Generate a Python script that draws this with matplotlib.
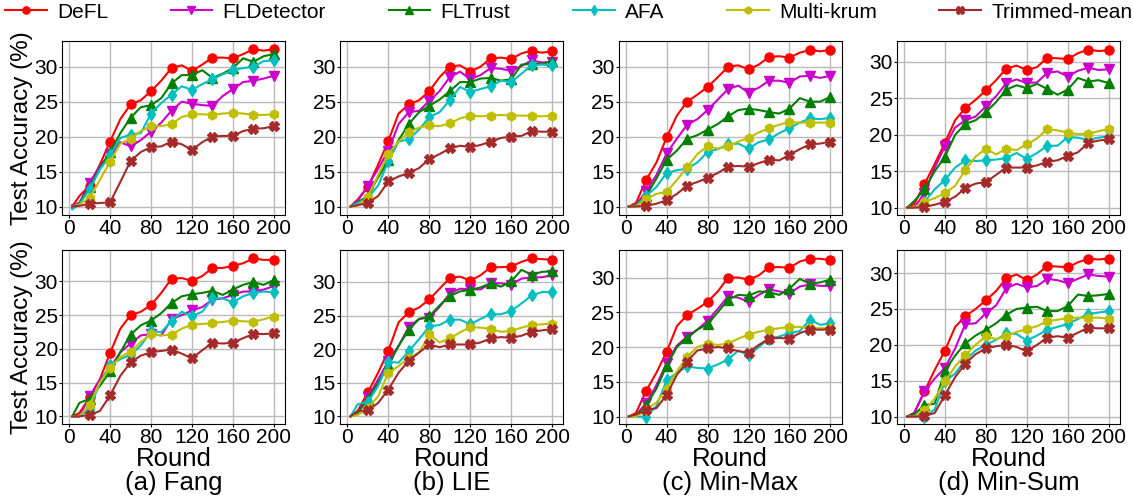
import matplotlib
matplotlib.use("Agg")
import matplotlib.pyplot as plt

plt.rcParams['font.family'] = ['Liberation Sans', 'DejaVu Sans']

# rounds at which accuracy was read (markers sit on every 20th round)
rounds = [3] + list(range(10, 201, 10))

methods = ['DeFL', 'FLDetector', 'FLTrust', 'AFA', 'Multi-krum', 'Trimmed-mean']
colors = ['#ff0000', '#cc00cc', '#008000', '#00bfbf', '#bfbf00', '#a52a2a']
markers = ['o', 'v', '^', 'd', 'h', 'X']

# top row
top_fang = {
    'DeFL':         [10, 11.5, 13.0, 16.0, 19.3, 22.5, 24.6, 25.2, 26.5, 28.0, 29.8, 30.2, 29.4, 30.3, 31.3, 31.3, 31.2, 31.8, 32.5, 32.3, 32.5],
    'FLDetector':   [10.2, 10.5, 13.4, 15.8, 17.5, 19.2, 18.6, 19.5, 20.7, 22.0, 23.7, 25.0, 24.7, 24.5, 24.4, 25.8, 26.8, 27.8, 28.0, 28.3, 28.7],
    'FLTrust':      [9.8, 10.5, 12.8, 15.5, 17.8, 20.5, 22.7, 24.2, 24.5, 25.5, 27.6, 28.8, 28.8, 29.5, 28.4, 29.0, 29.8, 31.2, 30.7, 31.5, 31.8],
    'AFA':          [9.6, 10.3, 12.5, 15.3, 17.3, 19.8, 20.3, 20.5, 23.3, 24.8, 26.0, 27.2, 26.7, 27.5, 28.2, 28.9, 29.5, 29.8, 30.0, 30.8, 30.9],
    'Multi-krum':   [10, 10.3, 11.2, 13.8, 16.4, 19.0, 19.7, 20.8, 21.5, 21.5, 21.8, 22.8, 23.2, 23.2, 23.1, 23.3, 23.4, 23.3, 23.1, 23.1, 23.2],
    'Trimmed-mean': [10, 10.1, 10.4, 10.5, 10.6, 13.5, 16.5, 17.8, 18.5, 18.6, 19.3, 18.9, 18.1, 19.2, 20.0, 20.1, 20.1, 20.8, 21.1, 21.2, 21.5],
}
top_lie = {
    'DeFL':         [10, 11.0, 12.8, 16.0, 19.4, 23.3, 24.6, 25.2, 26.5, 28.5, 30.0, 30.2, 29.3, 30.0, 31.2, 31.3, 31.1, 31.9, 32.3, 32.0, 32.2],
    'FLDetector':   [10, 10.8, 13.0, 15.4, 18.0, 21.8, 23.5, 23.7, 25.1, 26.5, 28.5, 29.3, 28.2, 28.8, 29.8, 29.7, 29.4, 30.1, 30.9, 30.6, 30.7],
    'FLTrust':      [10, 10.6, 11.5, 14.2, 16.6, 19.5, 21.8, 23.5, 24.4, 25.3, 26.5, 27.8, 27.8, 28.3, 28.4, 28.0, 28.2, 30.3, 30.4, 30.4, 30.8],
    'AFA':          [10, 10.5, 11.2, 13.0, 16.5, 19.3, 19.6, 21.0, 22.8, 23.5, 25.2, 27.1, 26.4, 26.8, 27.2, 28.0, 27.8, 29.0, 30.2, 30.3, 30.2],
    'Multi-krum':   [10, 10.1, 11.4, 14.5, 17.5, 19.3, 20.6, 21.3, 21.6, 21.5, 21.9, 22.6, 23.0, 22.9, 23.0, 23.1, 23.0, 23.0, 23.0, 22.9, 23.0],
    'Trimmed-mean': [10, 10.2, 10.5, 11.5, 13.6, 14.3, 14.8, 15.5, 16.8, 17.5, 18.3, 18.7, 18.5, 18.8, 19.3, 19.8, 20.0, 20.1, 20.8, 20.7, 20.7],
}
top_minmax = {
    'DeFL':         [10, 10.5, 13.8, 16.3, 19.9, 23.0, 25.0, 26.0, 27.1, 28.5, 30.0, 30.2, 29.6, 30.3, 31.4, 31.5, 31.3, 32.0, 32.4, 32.2, 32.4],
    'FLDetector':   [10, 10.2, 12.2, 14.5, 17.6, 19.7, 21.7, 22.5, 23.8, 25.3, 26.8, 27.3, 26.3, 27.0, 28.0, 28.0, 27.7, 28.6, 28.7, 28.4, 28.7],
    'FLTrust':      [10, 10.2, 11.5, 14.0, 16.7, 18.0, 19.7, 20.2, 21.0, 21.8, 22.9, 23.8, 24.0, 23.8, 23.5, 23.3, 24.0, 25.5, 25.0, 25.0, 25.7],
    'AFA':          [10, 10.1, 11.5, 12.8, 14.8, 15.2, 15.4, 16.3, 17.8, 18.2, 18.9, 19.0, 18.3, 19.2, 19.6, 20.5, 21.2, 22.0, 22.6, 22.5, 22.7],
    'Multi-krum':   [10, 10.0, 11.1, 11.8, 12.1, 13.8, 15.6, 17.5, 18.6, 18.3, 18.6, 19.3, 19.8, 20.6, 21.2, 21.7, 22.1, 22.0, 22.0, 22.0, 22.0],
    'Trimmed-mean': [10, 10.0, 10.1, 10.4, 10.9, 11.8, 13.0, 13.5, 14.1, 14.8, 15.7, 15.8, 15.7, 16.2, 16.7, 16.6, 17.4, 18.2, 18.9, 19.0, 19.3],
}
top_minsum = {
    'DeFL':         [10, 10.5, 13.2, 16.0, 18.9, 22.0, 23.7, 24.8, 26.1, 27.5, 29.1, 29.5, 28.9, 29.3, 30.6, 30.5, 30.4, 31.2, 31.7, 31.5, 31.6],
    'FLDetector':   [10, 10.0, 12.0, 15.5, 18.4, 21.0, 22.0, 22.5, 23.9, 25.3, 27.1, 27.6, 27.1, 27.2, 28.5, 28.7, 28.0, 28.8, 29.2, 28.9, 29.0],
    'FLTrust':      [10, 10.9, 12.5, 15.0, 17.0, 20.0, 21.5, 22.0, 23.1, 24.5, 26.2, 26.8, 26.4, 27.0, 26.3, 25.5, 26.2, 27.8, 27.3, 27.5, 27.1],
    'AFA':          [10, 10.0, 10.8, 12.5, 13.8, 15.5, 16.5, 16.4, 16.5, 16.6, 16.8, 17.5, 16.7, 17.5, 18.5, 18.5, 19.7, 19.6, 19.3, 19.6, 19.8],
    'Multi-krum':   [10, 10.0, 10.8, 11.3, 12.0, 13.0, 15.2, 17.0, 18.1, 17.3, 18.1, 17.9, 18.7, 19.5, 20.8, 20.6, 20.3, 20.1, 20.1, 20.5, 20.8],
    'Trimmed-mean': [10, 10.0, 10.1, 10.4, 10.8, 11.5, 12.7, 13.3, 13.5, 14.5, 15.5, 15.5, 15.5, 15.8, 16.3, 16.5, 17.1, 17.6, 18.9, 19.2, 19.4],
}

# bottom row
bot_fang = {
    'DeFL':         [10, 10.5, 12.8, 15.5, 19.4, 23.0, 25.0, 25.5, 26.5, 28.3, 30.4, 30.5, 30.1, 30.8, 32.0, 32.0, 32.3, 32.7, 33.4, 33.2, 33.2],
    'FLDetector':   [10, 10.0, 13.0, 15.4, 17.2, 19.5, 20.8, 22.0, 22.2, 22.0, 24.4, 25.0, 25.7, 26.2, 27.3, 27.5, 28.0, 28.5, 28.5, 28.8, 29.3],
    'FLTrust':      [10, 12.0, 12.6, 14.5, 16.7, 19.5, 22.1, 23.5, 24.2, 25.3, 26.8, 27.8, 28.1, 28.3, 28.6, 28.0, 28.8, 29.5, 29.9, 29.5, 30.2],
    'AFA':          [10, 10.0, 11.1, 15.0, 17.6, 18.5, 19.1, 20.5, 22.6, 22.5, 24.1, 25.5, 24.9, 25.5, 27.5, 27.5, 26.9, 27.8, 28.3, 28.5, 28.4],
    'Multi-krum':   [10, 10.0, 11.7, 15.0, 17.2, 18.8, 19.6, 21.0, 22.2, 22.0, 22.1, 23.0, 23.6, 23.7, 23.8, 24.0, 24.2, 24.1, 24.0, 24.4, 24.8],
    'Trimmed-mean': [10, 10.0, 10.2, 10.8, 13.1, 16.0, 18.0, 19.0, 19.5, 19.7, 19.9, 19.3, 18.6, 19.8, 20.9, 20.8, 20.9, 21.6, 22.2, 22.2, 22.3],
}
bot_lie = {
    'DeFL':         [10, 10.8, 13.6, 16.5, 19.8, 24.0, 25.5, 26.2, 27.4, 29.0, 30.6, 30.8, 30.2, 31.0, 32.2, 32.2, 32.3, 33.0, 33.5, 33.4, 33.3],
    'FLDetector':   [10, 10.5, 12.9, 15.5, 18.2, 20.5, 23.3, 24.5, 24.7, 26.3, 28.3, 29.0, 28.9, 28.9, 29.8, 29.8, 29.6, 30.5, 30.7, 30.7, 31.0],
    'FLTrust':      [10, 10.5, 12.6, 15.0, 17.6, 20.5, 22.9, 24.5, 24.9, 26.5, 27.9, 28.6, 28.8, 29.2, 29.8, 29.3, 30.1, 31.8, 31.1, 31.5, 31.6],
    'AFA':          [10, 11.8, 12.2, 14.5, 18.1, 18.0, 19.7, 21.5, 23.4, 23.6, 24.4, 24.4, 23.7, 24.5, 25.2, 25.2, 25.7, 26.8, 28.0, 28.5, 28.5],
    'Multi-krum':   [10, 10.2, 11.2, 13.0, 16.5, 17.5, 18.7, 19.5, 22.2, 21.0, 21.6, 22.5, 23.3, 23.2, 23.0, 22.6, 22.7, 23.2, 23.6, 23.7, 23.8],
    'Trimmed-mean': [10, 10.8, 10.9, 12.0, 14.0, 16.5, 18.3, 19.5, 20.7, 20.3, 20.7, 20.7, 20.7, 21.0, 21.6, 21.8, 21.7, 22.0, 22.6, 22.8, 23.0],
}
bot_minmax = {
    'DeFL':         [10, 10.5, 13.7, 16.3, 19.3, 23.0, 24.6, 25.5, 26.5, 28.0, 30.0, 30.0, 29.7, 30.3, 31.5, 31.5, 31.4, 32.3, 32.7, 32.7, 32.5],
    'FLDetector':   [10, 10.2, 11.9, 14.5, 17.7, 20.2, 21.5, 22.5, 23.8, 25.5, 27.3, 27.1, 26.5, 27.5, 28.3, 28.0, 27.7, 28.7, 29.0, 28.8, 28.8],
    'FLTrust':      [10, 10.2, 11.6, 14.0, 17.3, 20.0, 21.3, 22.5, 23.3, 25.0, 26.8, 27.5, 27.4, 28.0, 27.9, 27.5, 28.4, 29.8, 29.1, 29.3, 29.7],
    'AFA':          [10, 10.0, 10.0, 11.5, 15.2, 16.3, 17.2, 17.0, 16.9, 17.5, 18.2, 19.5, 18.8, 20.0, 21.2, 21.5, 22.0, 22.3, 23.9, 23.2, 23.4],
    'Multi-krum':   [10, 10.0, 11.0, 12.0, 14.0, 16.5, 18.6, 20.0, 20.5, 20.3, 20.5, 21.2, 21.8, 22.2, 22.5, 22.7, 22.9, 22.9, 22.7, 22.7, 22.7],
    'Trimmed-mean': [10, 10.3, 10.9, 11.2, 13.1, 16.0, 17.9, 19.5, 19.8, 20.0, 19.8, 19.4, 19.2, 20.3, 21.2, 21.3, 21.2, 22.0, 22.5, 22.5, 22.5],
}
bot_minsum = {
    'DeFL':         [10, 10.5, 13.5, 16.5, 19.2, 22.5, 24.0, 25.0, 26.2, 27.5, 29.3, 29.8, 29.0, 29.8, 31.0, 30.9, 30.8, 31.5, 32.0, 31.9, 32.0],
    'FLDetector':   [10, 10.5, 13.5, 15.3, 16.8, 19.5, 22.9, 23.0, 24.4, 25.5, 27.9, 28.5, 28.0, 28.2, 29.2, 29.0, 28.6, 29.2, 29.8, 29.6, 29.5],
    'FLTrust':      [10, 10.3, 11.6, 11.8, 16.4, 18.5, 20.2, 21.3, 22.1, 23.0, 24.2, 25.0, 25.2, 25.3, 24.7, 24.7, 25.4, 27.0, 26.8, 26.9, 27.1],
    'AFA':          [10, 10.0, 10.0, 11.0, 14.9, 16.0, 17.9, 19.2, 20.0, 20.7, 21.6, 21.5, 20.6, 21.3, 22.1, 22.5, 22.9, 23.6, 24.3, 24.5, 24.7],
    'Multi-krum':   [10, 10.0, 10.9, 12.5, 14.9, 17.0, 18.6, 20.0, 21.2, 20.8, 21.2, 21.8, 22.2, 22.6, 23.3, 23.5, 23.7, 23.8, 23.7, 23.8, 23.6],
    'Trimmed-mean': [10, 10.0, 10.1, 10.5, 13.0, 15.5, 17.4, 18.7, 19.5, 19.8, 20.0, 19.7, 19.1, 20.0, 21.0, 21.2, 21.0, 21.7, 22.4, 22.3, 22.3],
}

captions = ['(a) Fang', '(b) LIE', '(c) Min-Max', '(d) Min-Sum']
panels = [[top_fang, top_lie, top_minmax, top_minsum],
          [bot_fang, bot_lie, bot_minmax, bot_minsum]]
ylims = [[(8.8, 33.7), (8.8, 33.7), (8.8, 33.7), (9.0, 32.9)],
         [(8.9, 34.7), (8.9, 34.8), (8.95, 34.0), (9.0, 33.25)]]

fig, axes = plt.subplots(2, 4, figsize=(11.33, 4.98), dpi=100)
fig.subplots_adjust(left=0.0547, right=0.9885, top=0.918, bottom=0.149,
                    wspace=0.247, hspace=0.2)

for r in range(2):
    for c in range(4):
        ax = axes[r][c]
        data = panels[r][c]
        for m, col, mk in zip(methods, colors, markers):
            ax.plot(rounds, data[m], color=col, marker=mk, markersize=6.5,
                    linewidth=1.5, markevery=slice(2, None, 2), label=m)
        ax.set_xlim(-7, 211)
        ax.set_ylim(*ylims[r][c])
        ax.set_xticks([0, 40, 80, 120, 160, 200])
        ax.set_yticks([10, 15, 20, 25, 30])
        ax.grid(True, color='#bbbbbb', linewidth=1)
        ax.set_axisbelow(True)
        ax.tick_params(labelsize=15, length=2, pad=1)
        if c == 0:
            ax.set_ylabel('Test Accuracy (%)', fontsize=17.5, labelpad=1)
        if r == 1:
            ax.set_xlabel('Round\n' + captions[c], fontsize=18.5, linespacing=1.0, labelpad=0)

handles, labels = axes[0][0].get_legend_handles_labels()
fig.legend(handles, labels, loc='upper center', bbox_to_anchor=(0.502, 1.02), ncol=6,
           frameon=False, fontsize=15, handlelength=2.0, columnspacing=3.0,
           handletextpad=0.5, borderaxespad=0.2, markerscale=0.8)

plt.savefig('out.png', dpi=100)
